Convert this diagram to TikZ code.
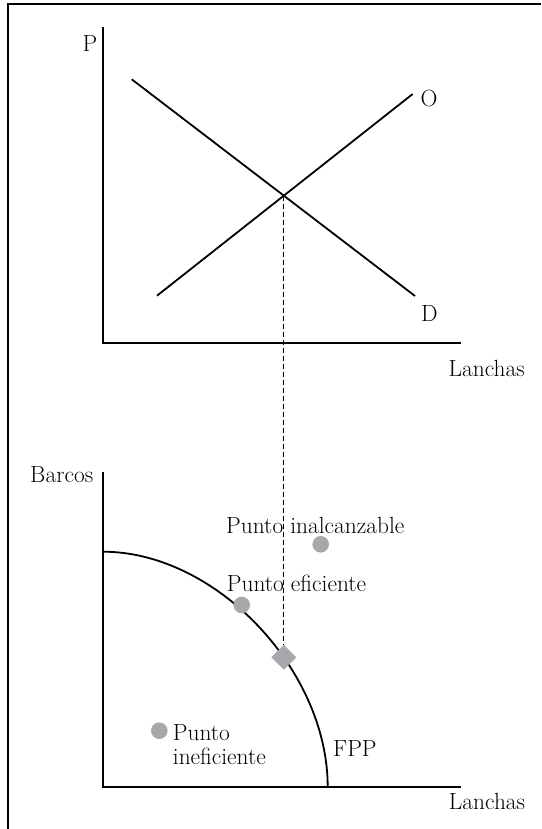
\documentclass[tikz,border=0pt]{standalone}
\usetikzlibrary{shapes.geometric}
\definecolor{dotgray}{RGB}{167,168,172}
\begin{document}
\begin{tikzpicture}[x=1pt,y=-1pt,
  txt/.style={inner sep=0pt, font=\fontsize{23.4}{23.3}\selectfont},
  framestyle/.style={line width=1.6pt},
  axisline/.style={line width=1.4pt},
  curveline/.style={line width=1.8pt},
  dashline/.style={line width=1.3pt, dash pattern=on 5pt off 3pt},
  dotpt/.style={circle, fill=dotgray, inner sep=0pt, minimum size=16.6pt},
  diapt/.style={diamond, aspect=1, fill=dotgray, inner sep=0pt, minimum width=25pt, minimum height=25pt}]
\useasboundingbox (0,0) rectangle (541,829);
% frame
\draw[framestyle] (8,829) -- (8,4) -- (541,4);
% top graph
\coordinate (Ptop) at (103,27.3);
\coordinate (Porig) at (103,343);
\coordinate (Pend) at (461,343);
\draw[axisline] (Ptop) -- (Porig) -- (Pend);
\coordinate (D1) at (131.7,79.3);
\coordinate (D2) at (415,296);
\coordinate (O1) at (157,295.7);
\coordinate (O2) at (412.7,94);
\draw[curveline] (D1) -- (D2);
\draw[curveline] (O1) -- (O2);
\coordinate (E) at (intersection of D1--D2 and O1--O2);
\node[txt] (lP) at (90,43.3) {P};
\node[txt] (lO) at (429,98.3) {O};
\node[txt] (lD) at (429.3,314) {D};
\node[txt] (lL1) at (486.7,368.3) {Lanchas};
% bottom graph
\coordinate (Btop) at (103,471.7);
\coordinate (Borig) at (103,787);
\coordinate (Bend) at (461,787);
\draw[axisline] (Btop) -- (Borig) -- (Bend);
\coordinate (F1) at (103,551.7);
\coordinate (F2) at (327.7,787);
\draw[curveline] (F1) .. controls (215.4,551.7) and (327.7,669.4) .. (F2);
\node[txt] (lB) at (61.7,475) {Barcos};
\node[txt] (lL2) at (487,801.7) {Lanchas};
\node[txt, anchor=west] (lInal) at (226,525) {Punto inalcanzable};
\node[dotpt] (pInal) at (320.7,544.3) {};
\node[txt, anchor=west] (lEf) at (226.7,583.3) {Punto eficiente};
\node[dotpt] (pEf) at (241.7,605) {};
\node[dotpt] (pIn) at (159.3,730.7) {};
\node[txt, anchor=west, align=left] (lIn) at (172.7,744.5) {Punto\\ineficiente};
\node[txt, anchor=west] (lF) at (333,748.3) {FPP};
\node[diapt] (dia) at (E |- 0,657.3) {};
\draw[dashline] (E) -- (dia.north);
\end{tikzpicture}
\end{document}
